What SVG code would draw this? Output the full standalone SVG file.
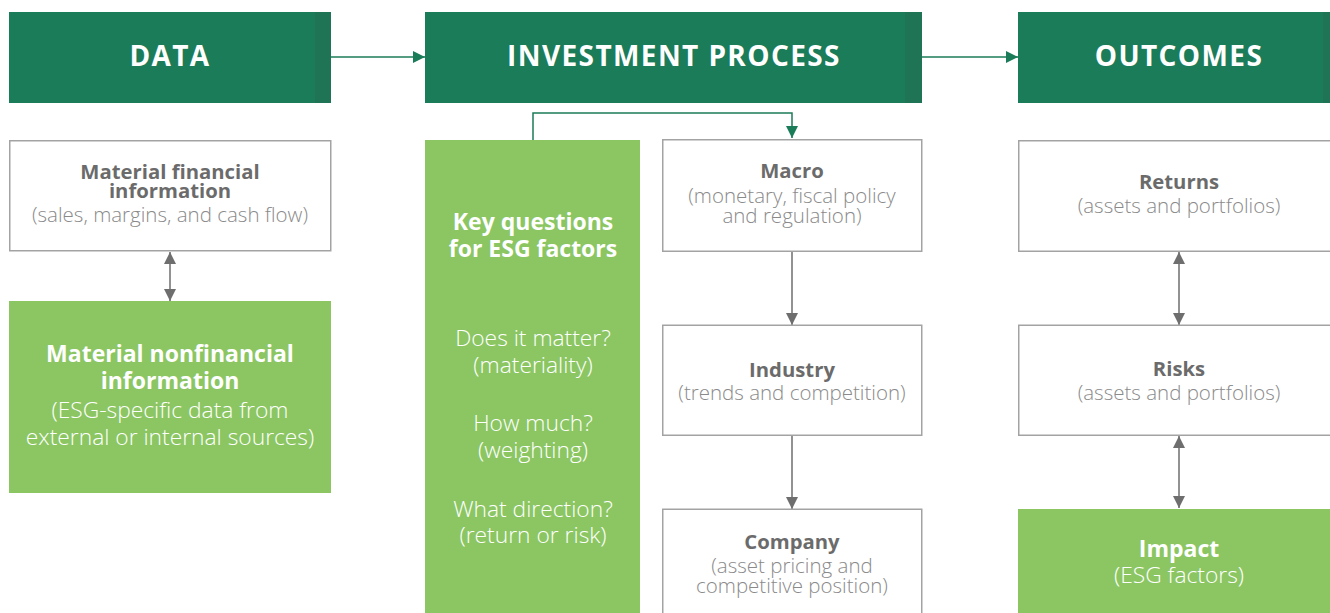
<svg xmlns="http://www.w3.org/2000/svg" width="1330" height="613" viewBox="0 0 1330 613">
<defs>
<style>
.hdr{fill:#1b7c5a}
.strip{fill:#1e7454}
.htxt{font-family:"Open Sans","Liberation Sans",sans-serif;font-weight:700;font-size:28px;fill:#ffffff;text-anchor:middle;letter-spacing:1.4px}
.wbox{fill:#ffffff;stroke:#a3a3a3;stroke-width:1.5}
.gbox{fill:#8bc663}
.b{font-family:"Open Sans","Liberation Sans",sans-serif;font-weight:700;font-size:20.3px;fill:#6b6b6b;text-anchor:middle}
.l{font-family:"Open Sans","Liberation Sans",sans-serif;font-weight:300;font-size:20.5px;fill:#8a8a8a;text-anchor:middle}
.bw{font-family:"Open Sans","Liberation Sans",sans-serif;font-weight:700;font-size:23px;fill:#ffffff;text-anchor:middle}
.lw{font-family:"Open Sans","Liberation Sans",sans-serif;font-weight:300;font-size:22.8px;fill:#ffffff;text-anchor:middle}
.gline{stroke:#1b7c5a;stroke-width:1.5;fill:none}
.kline{stroke:#6e6e6e;stroke-width:1.5;fill:none}
</style>
<marker id="ag" markerUnits="userSpaceOnUse" markerWidth="12" markerHeight="12" refX="12" refY="6" orient="auto-start-reverse">
<path d="M0,0 L12,6 L0,12 z" fill="#1b7c5a"/>
</marker>
<marker id="ak" markerUnits="userSpaceOnUse" markerWidth="12" markerHeight="12" refX="12" refY="6" orient="auto-start-reverse">
<path d="M0,0 L12,6 L0,12 z" fill="#6e6e6e"/>
</marker>
</defs>

<g id="connectors">
<line class="gline" x1="331" y1="57" x2="425" y2="57" marker-end="url(#ag)"/>
<line class="gline" x1="922" y1="57" x2="1018" y2="57" marker-end="url(#ag)"/>
<polyline class="gline" points="533,140 533,113 792,113 792,138" marker-end="url(#ag)"/>
<line class="kline" x1="170" y1="252" x2="170" y2="301" marker-start="url(#ak)" marker-end="url(#ak)"/>
<line class="kline" x1="792" y1="252" x2="792" y2="325" marker-end="url(#ak)"/>
<line class="kline" x1="792" y1="436" x2="792" y2="509" marker-end="url(#ak)"/>
<line class="kline" x1="1179" y1="252" x2="1179" y2="325" marker-start="url(#ak)" marker-end="url(#ak)"/>
<line class="kline" x1="1179" y1="436" x2="1179" y2="508" marker-start="url(#ak)" marker-end="url(#ak)"/>
</g>

<g id="data-header">
<rect class="hdr" x="9" y="12" width="322" height="91"/>
<rect class="strip" x="315" y="12" width="16" height="91"/>
<text class="htxt" x="170" y="66">DATA</text>
</g>

<g id="investment-header">
<rect class="hdr" x="425" y="12" width="497" height="91"/>
<rect class="strip" x="905" y="12" width="17" height="91"/>
<text class="htxt" x="674" y="66">INVESTMENT PROCESS</text>
</g>

<g id="outcomes-header">
<rect class="hdr" x="1018" y="12" width="312" height="91"/>
<rect class="strip" x="1323" y="12" width="7" height="91"/>
<text class="htxt" x="1179" y="66">OUTCOMES</text>
</g>

<g id="financial">
<rect class="wbox" x="9.75" y="140.75" width="321" height="110"/>
<text class="b" x="170" y="179">Material financial</text>
<text class="b" x="170" y="198">information</text>
<text class="l" x="170" y="222">(sales, margins, and cash flow)</text>
</g>

<g id="nonfinancial">
<rect class="gbox" x="9" y="301" width="322" height="192"/>
<text class="bw" x="170" y="362">Material nonfinancial</text>
<text class="bw" x="170" y="389">information</text>
<text class="lw" x="170" y="418">(ESG-specific data from</text>
<text class="lw" x="170" y="445">external or internal sources)</text>
</g>

<g id="key-questions">
<rect class="gbox" x="425" y="140" width="215" height="473"/>
<text class="bw" x="533" y="230">Key questions</text>
<text class="bw" x="533" y="257">for ESG factors</text>
<text class="lw" x="533" y="346">Does it matter?</text>
<text class="lw" x="533" y="373">(materiality)</text>
<text class="lw" x="533" y="431">How much?</text>
<text class="lw" x="533" y="458">(weighting)</text>
<text class="lw" x="533" y="517">What direction?</text>
<text class="lw" x="533" y="543">(return or risk)</text>
</g>

<g id="macro">
<rect class="wbox" x="662.75" y="139.75" width="259" height="111.5"/>
<text class="b" x="792" y="178">Macro</text>
<text class="l" x="792" y="203">(monetary, fiscal policy</text>
<text class="l" x="792" y="223">and regulation)</text>
</g>

<g id="industry">
<rect class="wbox" x="662.75" y="325.25" width="259" height="110"/>
<text class="b" x="792" y="377">Industry</text>
<text class="l" x="792" y="400">(trends and competition)</text>
</g>

<g id="company">
<rect class="wbox" x="662.75" y="509.25" width="259" height="110"/>
<text class="b" x="792" y="549">Company</text>
<text class="l" x="792" y="573">(asset pricing and</text>
<text class="l" x="792" y="593">competitive position)</text>
</g>

<g id="returns">
<rect class="wbox" x="1018.75" y="140.75" width="320" height="110.5"/>
<text class="b" x="1179" y="189">Returns</text>
<text class="l" x="1179" y="213">(assets and portfolios)</text>
</g>

<g id="risks">
<rect class="wbox" x="1018.75" y="325.25" width="320" height="110"/>
<text class="b" x="1179" y="376">Risks</text>
<text class="l" x="1179" y="400">(assets and portfolios)</text>
</g>

<g id="impact">
<rect class="gbox" x="1018" y="509" width="312" height="104"/>
<text class="bw" x="1179" y="557">Impact</text>
<text class="lw" x="1179" y="583">(ESG factors)</text>
</g>
</svg>
